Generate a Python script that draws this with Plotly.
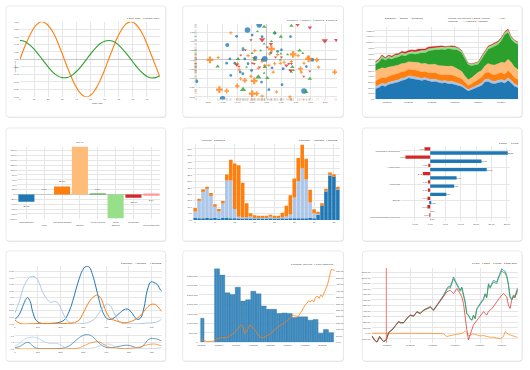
import plotly.graph_objects as go

W, H = 530, 370
FS = 2.4
TXT = '#4d4d4d'
GRID = '#e6e6e6'

# ---------------- DATA ----------------
# Panel 1: sine / cosine
wave_x = [0, 3, 6, 9, 12, 15, 18, 21, 24, 27, 30, 33, 36, 39, 42, 45, 48, 51, 54, 57, 60, 63, 66, 69, 72, 75, 78, 81, 84, 87, 90, 93, 96, 99]
sine_vals = [0.00, 0.30, 0.56, 0.78, 0.93, 1.00, 0.97, 0.86, 0.68, 0.43, 0.14, -0.16, -0.44, -0.69, -0.87, -0.98, -1.00, -0.93, -0.77, -0.55, -0.28, 0.02, 0.31, 0.58, 0.79, 0.94, 1.00, 0.97, 0.85, 0.66, 0.41, 0.12, -0.17, -0.46]
cosine_vals = [0.50, 0.48, 0.41, 0.31, 0.18, 0.04, -0.11, -0.25, -0.37, -0.45, -0.49, -0.49, -0.45, -0.36, -0.25, -0.11, 0.04, 0.19, 0.32, 0.42, 0.48, 0.50, 0.48, 0.41, 0.30, 0.17, 0.03, -0.12, -0.26, -0.37, -0.46, -0.50, -0.49, -0.44]
p1_xticks = [0, 10, 20, 30, 40, 50, 60, 70, 80, 90]

# Panel 2: scatter groups
g0_x = [-0.25, -0.65, -1.34, 0.28, -0.49, -0.15, -1.02, 0.82, -0.80, 0.51, 0.38, 0.15, -0.38, -0.06, -0.15, -0.63, -0.74, -1.36, -1.08, -1.25, -0.90, -0.81, -1.22, -0.51, 0.19, 0.57, 1.56, 1.36, 0.53, 1.28, -1.50, -2.40, -0.17, 0.08]
g0_y = [1.89, 1.61, 0.80, 1.43, 1.34, 1.25, 1.27, 1.25, 0.54, 0.54, 0.46, 0.38, 0.11, 0.05, 0.0, -0.21, 0.05, -0.18, -0.18, 0.05, -0.66, -0.75, -0.84, -0.57, -0.43, -0.48, 0.0, -0.36, -1.34, -1.68, -2.10, -1.16, -1.20, -1.61]
g0_s = [4.5, 4.5, 3.2, 2.2, 2.2, 2.2, 2.2, 2.2, 2.2, 2.2, 2.2, 2.2, 3.2, 4.5, 2.2, 2.2, 2.2, 2.2, 2.2, 2.2, 2.2, 2.2, 2.2, 2.2, 2.2, 2.2, 3.2, 2.2, 2.2, 4.5, 4.5, 3.2, 2.2, 2.2]
g1_x = [-1.22, -1.93, -1.65, -1.61, -1.36, -1.00, -0.88, -0.74, -0.42, -0.99, -0.93, -0.63, -0.40, -0.15, -0.06, 0.08, 0.11, 0.17, 0.23, 0.28, 0.38, 0.47, 0.60, 0.85, 0.91, 1.16, 1.19, 1.28, 1.42, 1.44, 1.72, 1.78, 2.33, -0.49, -0.33, -0.15, 0.34, 0.80, 1.08, -0.53, -0.28]
g1_y = [1.46, 0.0, 0.13, -1.61, -1.68, -1.41, -1.02, -1.11, -1.14, -0.21, -0.54, 0.23, 0.50, -0.09, -0.30, -0.30, 0.32, 0.59, -0.66, -0.21, 0.29, -0.18, -0.13, -0.09, 0.29, -0.48, -0.66, -0.18, 0.14, 0.05, 0.0, -0.39, -0.66, -1.82, -1.82, -1.96, -1.73, -2.0, 0.23, -0.89, -0.45]
g1_s = [2.2, 4.5, 2.2, 4.5, 3.2, 3.2, 2.2, 3.2, 4.5, 2.2, 2.2, 2.2, 2.2, 2.2, 2.2, 2.2, 2.2, 4.5, 2.2, 2.2, 2.2, 2.2, 2.2, 2.2, 4.5, 3.2, 2.2, 2.2, 2.2, 4.5, 3.2, 2.2, 3.2, 4.5, 3.2, 2.2, 2.2, 2.2, 2.2, 2.2, 2.2]
g2_x = [0.85, -0.08, -0.31, 0.28, 0.49, -0.08, 0.17, -0.20, -0.80, -0.97, -1.67, -0.40, -0.68, -0.06, -0.08, 0.03, -0.28, -0.80, 0.49, 0.72, 1.13, 1.24, 0.88, 0.80, 0.92, 0.85, 1.48, 1.36, 0.47, -0.49]
g2_y = [1.84, 1.79, 1.54, 1.48, 1.25, 0.86, 1.0, 0.50, 0.64, 0.05, -0.36, 0.0, -0.39, -0.39, -0.71, -0.98, -0.93, -1.61, 0.32, 0.29, 0.50, 0.36, -0.39, -0.57, -0.57, -0.66, -1.02, -1.73, 0.0, 0.36]
g2_s = [3.2, 3.2, 2.2, 3.2, 3.2, 2.2, 2.2, 2.2, 2.2, 3.2, 3.2, 3.2, 2.2, 3.2, 2.2, 3.2, 4.5, 4.5, 2.2, 2.2, 3.2, 2.2, 3.2, 2.2, 2.2, 2.2, 3.2, 3.2, 2.2, 2.2]
g3_x = [1.06, 1.48, 1.99, 2.38, -0.53, -0.15, 0.15, 0.03, -0.72, -0.88, -0.49, -0.42, -0.44, -1.02, -0.94, -0.23, 0.31, 0.51, 0.68, 0.76, 0.85, 1.48, 1.27, 0.83]
g3_y = [1.89, 1.75, 1.04, 1.07, 1.07, 1.09, 0.86, 0.68, 0.54, 0.25, -0.18, -0.21, 0.11, -0.27, -0.36, -0.39, 0.14, 0.14, -0.30, -0.21, -0.21, -0.61, -0.89, -0.57]
g3_s = [3.2, 3.2, 4.5, 3.2, 2.2, 4.5, 3.2, 2.2, 2.2, 2.2, 2.2, 2.2, 2.2, 3.2, 2.2, 2.2, 2.2, 2.2, 3.2, 2.2, 2.2, 2.2, 2.2, 3.2]
p2_xrange = [-2.42, 2.42]
p2_yrange = [-2.14, 1.93]

# Panel 3: stacked area by continent
p3_x = list(range(44))
north_america = [184, 202, 242, 225, 259, 271, 282, 300, 328, 340, 374, 369, 351, 340, 328, 340, 317, 305, 311, 294, 282, 288, 271, 271, 259, 242, 225, 184, 144, 167, 196, 225, 242, 300, 311, 282, 271, 288, 300, 282, 328, 282, 225, 202]
africa = [40, 45, 35, 42, 38, 40, 45, 40, 42, 38, 40, 42, 45, 40, 38, 42, 40, 44, 42, 40, 38, 40, 42, 45, 40, 38, 35, 30, 28, 30, 34, 38, 40, 45, 48, 42, 40, 44, 45, 42, 50, 46, 40, 38]
south_america = [90, 100, 110, 105, 108, 112, 110, 115, 118, 115, 110, 112, 115, 118, 112, 110, 108, 112, 115, 110, 108, 105, 110, 112, 108, 105, 100, 85, 70, 75, 85, 95, 105, 115, 120, 118, 115, 120, 118, 115, 125, 120, 110, 105]
asia = [185, 175, 165, 170, 160, 150, 150, 145, 140, 140, 135, 132, 140, 145, 145, 140, 145, 150, 145, 150, 155, 150, 155, 155, 150, 140, 130, 110, 100, 105, 115, 115, 115, 125, 150, 165, 175, 175, 185, 200, 200, 195, 185, 175]
europe = [117, 123, 168, 143, 155, 130, 145, 143, 150, 127, 130, 146, 138, 163, 195, 186, 237, 247, 245, 276, 293, 287, 309, 298, 319, 333, 328, 311, 263, 211, 175, 143, 201, 204, 247, 297, 332, 335, 383, 496, 470, 405, 431, 442]
australia = [30, 35, 40, 32, 38, 35, 40, 36, 38, 40, 35, 38, 42, 40, 36, 38, 40, 35, 38, 40, 42, 38, 36, 40, 38, 35, 32, 28, 25, 28, 30, 32, 35, 38, 40, 38, 36, 40, 38, 35, 40, 36, 34, 32]
antarctica = [15, 18, 20, 15, 18, 20, 22, 25, 28, 30, 32, 28, 30, 35, 30, 28, 32, 30, 25, 22, 20, 18, 15, 18, 15, 12, 10, 8, 6, 8, 10, 12, 15, 18, 20, 18, 15, 20, 18, 15, 20, 15, 12, 10]
p3_tickvals = [3.5, 10, 17, 24, 31, 38]
p3_ticktext = ['03/2003', '06/2003', '09/2003', '12/2003', '03/2004', '06/2004']

# Panel 4: discrete bars
bar_labels = ['Cash Balance', 'Loan', 'Corporate Bonds', 'Stocks', 'Fixed Futures', 'Options', 'Dividends', 'Reinvestments']
bar_values = [-29.77, 0.00, 32.81, 196.46, 0.19, -98.08, -13.93, -5.14]
bar_colors = ['#1f77b4', '#aec7e8', '#ff7f0e', '#ffbb78', '#2ca02c', '#98df8a', '#d62728', '#ff9896']

# Panel 5: stacked multibar
p5_x = list(range(37))
stream0 = [1.5, 1.3, 1.3, 1.5, 1.3, 1.5, 1.0, 1.5, 1.5, 1.3, 1.3, 1.5, 1.3, 1.5, 1.3, 1.3, 1.3, 1.3, 1.3, 1.5, 1.3, 1.3, 1.5, 1.3, 1.3, 1.3, 1.3, 1.3, 1.3, 1.5, 1.3, 4.1, 11.0, 22.4, 34.7, 33.7, 23.7]
stream1 = [5.1, 13.5, 21.2, 23.0, 18.1, 8.7, 5.6, 11.2, 29.1, 29.3, 7.1, 1.0, 0.8, 0.5, 1.3, 1.0, 1.0, 1.0, 1.0, 1.0, 1.0, 0.8, 0.5, 1.3, 2.8, 16.1, 28.8, 38.8, 30.1, 12.0, 3.8, 0.8, 0.5, 0.3, 0.3, 0.3, 0.3]
stream2 = [2.6, 1.5, 1.3, 1.3, 1.5, 2.0, 1.8, 2.0, 4.6, 16.1, 35.4, 39.8, 26.8, 11.0, 2.6, 1.3, 0.8, 0.8, 1.0, 1.0, 0.8, 0.5, 3.6, 8.4, 15.0, 14.8, 17.9, 18.1, 16.1, 9.9, 3.1, 1.3, 1.5, 1.5, 1.8, 1.5, 1.8]

# Panel 6: horizontal multibar
sectors = ['Information Technology', 'Consumer Discretionary', 'Health Care', 'Industrials', 'Financials', 'Consumer Staples', 'Energy', 'Materials', 'Telecommunication Services']
short_pos = [-1.87, -8.10, -0.57, -2.42, -0.72, -0.77, -0.90, -0.91, -0.06]
long_pos = [25.31, 16.76, 18.45, 8.61, 7.81, 5.26, 0.31, 0.00, 0.00]

# Panel 7: line with focus
s0_x = [0, 19, 34, 48, 55, 67, 77, 92, 107, 128, 158, 187, 216, 238, 253, 267, 282, 296, 311, 326, 340, 355, 369, 384, 403, 420, 435, 457, 479, 493, 508, 523, 537, 552, 566, 581, 596, 610, 625, 639, 644]
s0_y = [0.65, 1.4, 2.65, 3.75, 4.0, 3.4, 1.9, 0.55, 0.15, 0, 0.05, 0.15, 0.55, 1.9, 3.4, 5.15, 6.9, 8.15, 8.75, 8.65, 7.55, 5.65, 3.65, 1.9, 0.8, 0.65, 0.9, 1.55, 2.15, 2.25, 1.9, 1.15, 0.65, 0.9, 2.4, 5.15, 6.4, 6.3, 6.0, 5.15, 5.0]
s1_x = [0, 19, 41, 63, 77, 92, 107, 121, 143, 158, 172, 187, 201, 216, 231, 253, 289, 318, 347, 369, 391, 406, 420, 435, 450, 464, 493, 552, 581, 610, 632, 644]
s1_y = [1.65, 3.4, 5.9, 7.05, 7.25, 7.05, 6.15, 4.9, 3.65, 3.25, 3.4, 3.25, 2.4, 1.25, 0.4, 0, 0, 0.15, 0.65, 1.65, 2.65, 3.0, 2.65, 1.65, 0.65, 0.15, 0, 0, 0.1, 0.15, 0.4, 0.75]
s2_x = [0, 12, 26, 80, 130, 180, 231, 260, 282, 296, 311, 326, 347, 362, 377, 391, 406, 420, 435, 457, 479, 501, 523, 545, 566, 588, 603, 618, 632, 644]
s2_y = [0.55, 0.25, 0, 0, 0.05, 0, 0.05, 0.15, 0.55, 1.4, 2.4, 3.4, 4.15, 4.4, 3.9, 2.65, 1.4, 0.75, 0.55, 0.3, 0.15, 0.25, 0.55, 1.05, 1.9, 2.75, 3.0, 2.9, 2.4, 1.9]

# Panel 8: line plus bar
months = list(range(77))
quantity = [1270000, 1270000, 0, 0, 0, 0, 0, 0,
            3900000, 3900000, 3900000, 3555000, 3555000, 3555000, 2613000, 2613000, 2613000,
            2526000, 2526000, 2526000, 2909000, 2909000, 2909000, 2178000, 2178000, 2178000,
            2247000, 2247000, 2247000, 2700000, 2700000, 2700000, 2561000, 2561000, 2561000,
            1916000, 1916000, 1916000, 1742000, 1742000, 1742000, 1742000, 1742000, 1742000,
            1516000, 1516000, 1516000, 1550000, 1550000, 1550000, 1516000, 1516000, 1516000,
            1307000, 1307000, 1307000, 1341000, 1341000, 1341000, 1341000, 1341000, 1341000,
            1167000, 1167000, 1167000, 1202000, 1202000, 1202000, 470000, 470000, 470000,
            679000, 679000, 679000, 505000, 505000, 505000]
price_x = [0, 1, 3, 5, 7, 9, 11, 13, 15, 17, 19, 20, 22, 23, 24, 25, 27, 28, 29, 30, 31, 32, 34, 35, 36, 38, 40, 42, 44, 46, 48, 49, 51, 52, 53, 54, 55, 56, 57, 59, 60, 61, 62, 63, 64, 65, 66, 67, 68, 69, 70, 71, 72, 73, 74, 75, 76, 77]
price_y = [21, 15, 5, 3, 10, 26, 36, 33, 38, 54, 72, 90, 118, 136, 123, 67, 103, 136, 123, 110, 97, 72, 38, 33, 36, 51, 67, 92, 118, 136, 149, 162, 187, 200, 210, 205, 200, 200, 221, 272, 290, 303, 323, 315, 328, 315, 349, 359, 341, 367, 354, 385, 418, 451, 508, 564, 569, 554]
p8_tickvals = [0, 10, 20, 30, 40, 50, 60, 70]
p8_ticktext = ['01/2000', '11/2000', '09/2001', '07/2002', '05/2003', '03/2004', '01/2005', '11/2005']

# Panel 9: cumulative return
p9_x = [0, 3.5, 7.5, 11.5, 15, 17.5, 21.5, 25, 30, 35, 40, 42.5, 47.5, 52.5, 57.5, 62.5, 67.5, 72.5, 77.5, 82.5, 87.5, 92.5, 97.5, 102.5, 107.5, 112.5, 115, 117.5, 122.5, 125, 127.5, 132.5, 135, 137.5, 140, 142.5, 145, 147.5, 150, 152.5, 155, 157.5, 162.5, 167.5, 170, 172.5, 175, 177.5, 182.5, 187.5, 190, 192.5, 195, 197.5, 200, 202.5, 205, 207.5, 210, 212.5, 215, 217.5, 219]
long_vals = [-0.48, -1.19, -1.61, -0.6, -1.19, -1.49, -1.19, 0.12, 0.6, 1.31, 2.08, 1.9, 1.9, 2.68, 3.27, 3.1, 3.87, 3.57, 4.17, 4.46, 4.76, 4.17, 5.06, 5.95, 6.85, 8.04, 8.45, 8.33, 10.12, 9.52, 8.93, 7.74, 8.33, 7.14, 5.65, 3.57, 3.27, 2.68, 2.38, 3.27, 2.68, 4.46, 5.36, 6.25, 7.14, 6.55, 8.93, 8.33, 9.52, 9.23, 10.12, 11.01, 11.6, 11.31, 11.19, 10.42, 8.93, 6.55, 6.25, 6.85, 6.55, 7.74, 8.21]
short_vals = [0, 0.02, 0.05, 0.03, 0.0, 0.02, 0.0, -0.02, 0.0, 0.02, 0.0, -0.03, 0.0, 0.02, 0.0, -0.02, 0.0, 0.02, -0.02, 0.0, -0.03, -0.05, -0.02, -0.05,
              -0.12, -0.6, -0.5, -0.42, -0.3, -0.25, -0.18, -0.12, 0.0, 0.12, 0.42, 0.12, -0.48, -0.3, -0.2, -0.12, -0.2, -0.3, -0.48, -0.42, -0.5, -0.6, -0.65, -0.71, -0.71, -0.89, -0.95, -1.01, -0.8, -0.6, 0.3, 0.0, -0.2, -0.3, -0.4, -0.6, -0.65, -0.7, -0.71]
gross_vals = [-0.5, -1.2, -1.63, -0.62, -1.21, -1.5, -1.2, 0.1, 0.57, 1.27, 2.03, 1.85, 1.85, 2.62, 3.2, 3.03, 3.79, 3.49, 4.08, 4.36, 4.65, 4.07, 4.94, 5.8, 6.68, 7.8, 8.2, 8.1, 9.8, 9.25, 8.7, 7.55, 8.1, 6.95, 5.5, 3.45, 3.15, 2.6, 2.3, 3.15, 2.6, 4.3, 5.18, 6.05, 6.9, 6.35, 8.65, 8.1, 9.22, 8.95, 9.8, 10.65, 11.25, 10.95, 10.85, 10.1, 8.65, 6.35, 6.05, 6.62, 6.35, 7.5, 7.95]
sp_vals = [-0.46, -1.17, -1.6, -0.58, -1.17, -1.47, -1.17, 0.14, 0.62, 1.33, 2.1, 1.92, 1.92, 2.7, 3.29, 3.12, 3.89, 3.59, 4.19, 4.48, 4.78, 4.19, 5.05, 5.85, 6.55, 7.44, 7.6, 7.74, 7.14, 7.6, 8.04, 7.14, 6.5, 5.36, 2.38, 0.6, -1.19, -0.12, 0.6, 1.49, 1.9, 2.38, 3.27, 3.87, 3.6, 3.27, 3.9, 4.17, 4.76, 5.65, 6.1, 6.55, 6.9, 7.14, 6.9, 6.55, 5.06, 4.46, 5.95, 6.55, 6.8, 7.14, 7.74]
index_point = 21.5
p9_tickvals = [22.5, 57.5, 91.5, 125, 162.5, 195]
p9_ticktext = ['01/2005', '07/2005', '01/2006', '07/2006', '01/2007', '07/2007']

# ---------------- HELPERS ----------------
def px(x):
    return x / W

def py(y):
    return 1 - y / H

def dx(a, b):
    return [a / W, b / W]

def dy(a, b):
    return [1 - b / H, 1 - a / H]

def axis(domain, anchor, **kw):
    d = dict(domain=domain, anchor=anchor, showgrid=True, gridcolor=GRID, gridwidth=0.5,
             zeroline=False, showline=False, ticks='', fixedrange=True,
             tickfont=dict(size=FS, color=TXT, family='Liberation Sans'))
    d.update(kw)
    return d

def leg(x, y, color, text, sym='\u25cf'):
    return dict(x=px(x), y=py(y), xref='paper', yref='paper', xanchor='left', yanchor='middle',
                showarrow=False, text=f'<span style="color:{color}">{sym}</span> {text}',
                font=dict(size=FS, color='#333333', family='Liberation Sans'))

def rrect(x0, y0, x1, y1, r):
    p = (f"M {px(x0+r)},{py(y0)} L {px(x1-r)},{py(y0)} Q {px(x1)},{py(y0)} {px(x1)},{py(y0+r)} "
         f"L {px(x1)},{py(y1-r)} Q {px(x1)},{py(y1)} {px(x1-r)},{py(y1)} "
         f"L {px(x0+r)},{py(y1)} Q {px(x0)},{py(y1)} {px(x0)},{py(y1-r)} "
         f"L {px(x0)},{py(y0+r)} Q {px(x0)},{py(y0)} {px(x0+r)},{py(y0)} Z")
    return p

fig = go.Figure()

# ---------------- PANEL 1 ----------------
fig.add_trace(go.Scatter(x=wave_x, y=sine_vals, mode='lines', line=dict(color='#ff7f0e', width=1.1, shape='spline'),
                         xaxis='x', yaxis='y'))
fig.add_trace(go.Scatter(x=wave_x, y=cosine_vals, mode='lines', line=dict(color='#2ca02c', width=1.1, shape='spline'),
                         xaxis='x', yaxis='y'))

# ---------------- PANEL 2 ----------------
groups = [(g0_x, g0_y, g0_s, '#1f77b4', 'circle'), (g1_x, g1_y, g1_s, '#ff7f0e', 'cross'),
          (g2_x, g2_y, g2_s, '#2ca02c', 'triangle-up'), (g3_x, g3_y, g3_s, '#d62728', 'triangle-down')]
for gx, gy, gs, col, sym in groups:
    fig.add_trace(go.Scatter(x=[p2_xrange[0]] * len(gy), y=gy, mode='markers', xaxis='x2', yaxis='y2',
                             marker=dict(size=1.6, symbol='line-ew', line=dict(color=col, width=0.4)), opacity=0.5,
                             cliponaxis=False))
    fig.add_trace(go.Scatter(x=gx, y=[p2_yrange[0]] * len(gx), mode='markers', xaxis='x2', yaxis='y2',
                             marker=dict(size=1.6, symbol='line-ns', line=dict(color=col, width=0.4)), opacity=0.5,
                             cliponaxis=False))
for gx, gy, gs, col, sym in groups:
    fig.add_trace(go.Scatter(x=gx, y=gy, mode='markers', xaxis='x2', yaxis='y2',
                             marker=dict(size=[s * 1.25 for s in gs], color=col, symbol=sym, opacity=0.78,
                                         line=dict(width=0)),
                             cliponaxis=True))

# ---------------- PANEL 3 ----------------
area_series = [('North America', north_america, '#1f77b4'), ('Africa', africa, '#aec7e8'),
               ('South America', south_america, '#ff7f0e'), ('Asia', asia, '#ffbb78'),
               ('Europe', europe, '#2ca02c'), ('Australia', australia, '#98df8a'),
               ('Antarctica', antarctica, '#d62728')]
for name, vals, col in area_series:
    fig.add_trace(go.Scatter(x=p3_x, y=vals, name=name, mode='lines', stackgroup='one', xaxis='x3', yaxis='y3',
                             line=dict(color=col, width=0.3), fillcolor=col, opacity=0.85))

# ---------------- PANEL 4 ----------------
fig.add_trace(go.Bar(x=bar_labels, y=bar_values, marker=dict(color=bar_colors, line=dict(width=0)),
                     xaxis='x4', yaxis='y4', texttemplate='%{y:.2f}', textposition='outside',
                     textfont=dict(size=FS, color='#333'), cliponaxis=False, constraintext='none'))

# ---------------- PANEL 5 ----------------
for vals, col in [(stream0, '#1f77b4'), (stream1, '#aec7e8'), (stream2, '#ff7f0e')]:
    fig.add_trace(go.Bar(x=p5_x, y=vals, marker=dict(color=col, line=dict(width=0)), xaxis='x5', yaxis='y5'))

# ---------------- PANEL 6 ----------------
fig.add_trace(go.Bar(y=sectors, x=short_pos, orientation='h', marker=dict(color='#d62728', line=dict(width=0)),
                     offset=-0.45, width=0.4, xaxis='x6', yaxis='y6', texttemplate='%{x:.2f}',
                     textposition='outside', textfont=dict(size=FS * 0.9, color='#333'), cliponaxis=False,
                     constraintext='none'))
fig.add_trace(go.Bar(y=sectors, x=long_pos, orientation='h', marker=dict(color='#1f77b4', line=dict(width=0)),
                     offset=0.05, width=0.4, xaxis='x6', yaxis='y6', texttemplate='%{x:.2f}',
                     textposition='outside', textfont=dict(size=FS * 0.9, color='#333'), cliponaxis=False,
                     constraintext='none'))

# ---------------- PANEL 7 ----------------
for xs, ys, col in [(s0_x, s0_y, '#1f77b4'), (s1_x, s1_y, '#aec7e8'), (s2_x, s2_y, '#ff7f0e')]:
    fig.add_trace(go.Scatter(x=xs, y=ys, mode='lines', line=dict(color=col, width=1.0, shape='spline'),
                             xaxis='x7', yaxis='y7'))
    fig.add_trace(go.Scatter(x=xs, y=ys, mode='lines', line=dict(color=col, width=0.7, shape='spline'),
                             xaxis='x8', yaxis='y8'))

# ---------------- PANEL 8 ----------------
fig.add_trace(go.Bar(x=months, y=quantity, width=1, marker=dict(color='#3f8fc6', line=dict(color='#2b6e9c', width=0.3)),
                     xaxis='x9', yaxis='y9'))
fig.add_trace(go.Scatter(x=price_x, y=price_y, mode='lines', line=dict(color='#ff7f0e', width=0.8),
                         xaxis='x9', yaxis='y10'))

# ---------------- PANEL 9 ----------------
for vals, col in [(long_vals, '#1f77b4'), (short_vals, '#ff7f0e'), (gross_vals, '#2ca02c'), (sp_vals, '#d62728')]:
    fig.add_trace(go.Scatter(x=p9_x, y=vals, mode='lines', line=dict(color=col, width=0.7),
                             xaxis='x11', yaxis='y11'))

# ---------------- LAYOUT ----------------
layout = dict(
    width=W, height=H, margin=dict(l=0, r=0, t=0, b=0),
    paper_bgcolor='white', plot_bgcolor='rgba(0,0,0,0)',
    showlegend=False, hovermode=False, barmode='relative', bargap=0.1,
    font=dict(family='Liberation Sans', size=FS, color=TXT),
)

layout['xaxis'] = axis(dx(19, 159), 'y', range=[0, 99], tickvals=p1_xticks)
layout['yaxis'] = axis(dy(21, 96.5), 'x', range=[-1, 1], dtick=0.2, tick0=0, tickformat='.2f',
                       zeroline=True, zerolinecolor='#c8c8c8', zerolinewidth=0.6)

layout['xaxis2'] = axis(dx(195, 337), 'y2', range=p2_xrange, dtick=0.5, tickformat='.2f',
                        zeroline=True, zerolinecolor='#c8c8c8', zerolinewidth=0.6)
layout['yaxis2'] = axis(dy(23.3, 99.3), 'x2', range=p2_yrange, dtick=0.5, tickformat='.2f',
                        zeroline=True, zerolinecolor='#c8c8c8', zerolinewidth=0.6)

layout['xaxis3'] = axis(dx(375, 518), 'y3', range=[0, 43], tickvals=p3_tickvals, ticktext=p3_ticktext)
layout['yaxis3'] = axis(dy(26.7, 99), 'x3', range=[0, 1260], dtick=100, tickformat=',.1f')

ticktext4 = [lab if i % 2 == 0 else '<br>' + lab for i, lab in enumerate(bar_labels)]
layout['xaxis4'] = axis(dx(16.5, 159.5), 'y4', type='category', tickvals=bar_labels, ticktext=ticktext4)
layout['yaxis4'] = axis(dy(146.7, 220), 'x4', range=[-101.6, 196.5], dtick=20, tickformat=',.1f',
                        zeroline=True, zerolinecolor='#c8c8c8', zerolinewidth=0.6)

layout['xaxis5'] = axis(dx(192.5, 339.5), 'y5', range=[-0.5, 36.5], tickvals=[0, 5, 10, 15, 20, 25, 30, 35])
layout['yaxis5'] = axis(dy(144, 220.7), 'x5', range=[0, 59], dtick=5, tickformat=',.1f')

layout['xaxis6'] = axis(dx(401, 510), 'y6', range=[-9.45, 26.06], dtick=5, tick0=0, tickformat=',.2f')
layout['yaxis6'] = axis(dy(147, 222), 'x6', type='category', range=[8.5, -0.5], tickvals=sectors[0::2])

layout['xaxis7'] = axis(dx(14, 161), 'y7', range=[0, 644], dtick=100)
layout['yaxis7'] = axis(dy(266.7, 326), 'x7', range=[-0.1, 8.9], dtick=1, tickformat='.2f')
layout['xaxis8'] = axis(dx(14, 161), 'y8', range=[0, 644], dtick=100)
layout['yaxis8'] = axis(dy(335.7, 351), 'x8', range=[-0.2, 9.2], dtick=4, tickformat='.1f')

layout['xaxis9'] = axis(dx(198, 334.7), 'y9', range=[-1.66, 77.3], tickvals=p8_tickvals, ticktext=p8_ticktext,
                        showgrid=False)
layout['yaxis9'] = axis(dy(269.7, 344), 'x9', range=[0, 3900000], dtick=500000, tickformat=',.0f')
layout['yaxis10'] = axis(dy(269.7, 344), 'x9', overlaying='y9', side='right', range=[0, 574], dtick=50,
                         tickformat='.2f', showgrid=False)

layout['xaxis11'] = axis(dx(371.7, 517.7), 'y11', range=[0, 219], tickvals=p9_tickvals, ticktext=p9_ticktext)
layout['yaxis11'] = axis(dy(269.3, 344.3), 'x11', range=[-1.67, 11.73], dtick=1, tick0=0, tickformat='.1%')

# cards
cards = [(5, 5, 165, 117), (182, 5, 343, 117), (362, 5, 522, 117),
         (5, 128, 165, 242), (182, 128, 343, 242), (362, 128, 522, 242),
         (5, 252, 165, 363), (182, 252, 343, 363), (362, 252, 522, 363)]
shapes = []
for (a, b, c, d) in cards:
    shapes.append(dict(type='path', path=rrect(a + 0.6, b + 0.8, c + 0.6, d + 1.0, 3), xref='paper', yref='paper',
                       fillcolor='#ececec', line=dict(width=0), layer='below'))
    shapes.append(dict(type='path', path=rrect(a, b, c, d, 3), xref='paper', yref='paper',
                       fillcolor='white', line=dict(color='#dcdcdc', width=0.6), layer='below'))
shapes.append(dict(type='line', xref='x11', yref='y11 domain', x0=index_point, x1=index_point, y0=0, y1=1,
                   line=dict(color='#ff5a5a', width=0.8)))
layout['shapes'] = shapes

ann = []
ann.append(dict(x=px(89), y=py(99.6), xref='paper', yref='paper', showarrow=False, text='Time (ms)',
                font=dict(size=FS, color='#333')))
ann.append(dict(x=px(11.5), y=py(58), xref='paper', yref='paper', showarrow=False, text='Voltage (v)',
                textangle=-90, font=dict(size=FS, color='#333')))
ann += [leg(124.5, 17.3, '#ff7f0e', 'Sine Wave'), leg(140, 17.3, '#2ca02c', 'Cosine Wave')]
ann += [leg(285, 20, '#1f77b4', 'Group 0'), leg(297.5, 20, '#ff7f0e', 'Group 1'),
        leg(310.5, 20, '#2ca02c', 'Group 2'), leg(323.5, 20, '#d62728', 'Group 3')]
ann += [leg(382.5, 17.7, '#333333', 'Stacked'), leg(395.5, 17.7, '#555555', 'Stream', '\u25cb'),
        leg(408, 17.7, '#555555', 'Expanded', '\u25cb')]
ann += [leg(446, 17.3, '#1f77b4', 'North America'), leg(461, 17.3, '#aec7e8', 'Africa'),
        leg(469.5, 17.3, '#ff7f0e', 'South America'), leg(496, 17.3, '#ffbb78', 'Asia'),
        leg(446, 20.8, '#2ca02c', 'Europe'), leg(461, 20.8, '#98df8a', 'Australia'),
        leg(473, 20.8, '#d62728', 'Antarctica')]
ann += [leg(197.5, 140.7, '#555555', 'Grouped', '\u25cb'), leg(211, 140.7, '#333333', 'Stacked'),
        leg(297, 140.7, '#1f77b4', 'Stream0'), leg(311, 140.7, '#aec7e8', 'Stream1'),
        leg(323.5, 140.7, '#ff7f0e', 'Stream2')]
ann += [leg(497, 144, '#d62728', 'Short'), leg(508.5, 144, '#1f77b4', 'Long')]
ann += [leg(118.5, 264.3, '#1f77b4', 'Stream0'), leg(132.5, 264.3, '#aec7e8', 'Stream1'),
        leg(147.5, 264.3, '#ff7f0e', 'Stream2')]
ann += [leg(289, 265.3, '#1f77b4', 'Quantity (left axis)'), leg(311.5, 265.3, '#ff7f0e', 'Price (right axis)')]
ann += [leg(470, 264.3, '#1f77b4', 'Long'), leg(479.5, 264.3, '#ff7f0e', 'Short'),
        leg(491, 264.3, '#2ca02c', 'Gross'), leg(502, 264.3, '#d62728', 'S&amp;P 1500')]
layout['annotations'] = ann

fig.update_layout(**layout)
fig.write_html('out.html', config={'displayModeBar': False},
               post_script="document.body.style.margin='0';document.body.style.overflow='hidden';")
